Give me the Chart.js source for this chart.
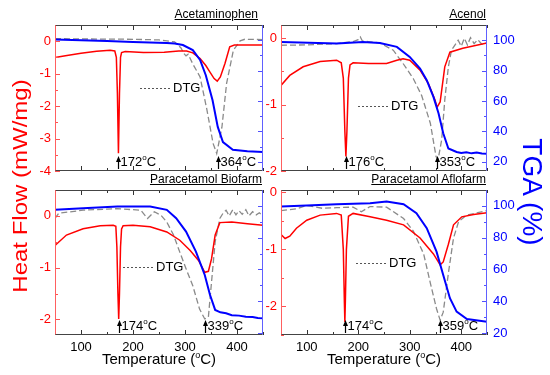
<!DOCTYPE html>
<html>
<head>
<meta charset="utf-8">
<script src="https://cdn.jsdelivr.net/npm/chart.js@4.4.0/dist/chart.umd.min.js"></script>
<style>
body { margin: 0; background: #fff; }
#wrap { position: relative; width: 550px; height: 375px; overflow: hidden; font-family: 'Liberation Sans', Arial, sans-serif; }
canvas { position: absolute; left: 0; top: 0; }
.ttl { position: absolute; font-size: 12px; line-height: 12px; text-decoration: underline; color: #000; white-space: nowrap; }
.xt { position: absolute; width: 200px; text-align: center; font-size: 15px; line-height: 15px; color: #000; white-space: nowrap; }
.xt span { font-size: 9px; position: relative; top: -6px; }
#hf { position: absolute; left: -130px; top: 174px; width: 300px; line-height: 24px; font-size: 20px; text-align: center; color: #ff0000; transform: rotate(-90deg) scale(1.2, 1); white-space: nowrap; }
#tga { position: absolute; left: 432px; top: 178px; width: 200px; line-height: 28px; font-size: 28px; text-align: center; color: #0000ff; transform: rotate(90deg); white-space: nowrap; }
</style>
</head>
<body>
<div id="wrap">
	<canvas id="c0" width="550" height="375"></canvas>
	<canvas id="c1" width="550" height="375"></canvas>
	<canvas id="c2" width="550" height="375"></canvas>
	<canvas id="c3" width="550" height="375"></canvas>
	<div class="ttl" style="right:292px; top:8px;">Acetaminophen</div>
	<div class="ttl" style="right:64px; top:8px;">Acenol</div>
	<div class="ttl" style="right:288px; top:173px;">Paracetamol Biofarm</div>
	<div class="ttl" style="right:64px; top:173px;">Paracetamol Aflofarm</div>
	<div class="xt" style="left:59px; top:351px;">Temperature (<span>o</span>C)</div>
	<div class="xt" style="left:284px; top:351px;">Temperature (<span>o</span>C)</div>
	<div id="hf">Heat Flow (mW/mg)</div>
	<div id="tga">TGA (%)</div>
</div>
<script>
// temperature ticks
const xTicks = [100, 200, 300, 400];
const tgaTicks = [20, 40, 60, 80, 100];

// Acetaminophen
const acetDscT = [50, 70, 100, 130, 156, 165, 168, 170, 172, 174, 176, 178, 185, 220, 260, 288, 303, 315, 329, 340, 348, 356, 362, 368, 377, 386, 395, 450];
const acetDsc = [-0.5, -0.45, -0.37, -0.31, -0.28, -0.3, -0.5, -1.6, -3.45, -1.6, -0.5, -0.35, -0.32, -0.35, -0.34, -0.3, -0.3, -0.36, -0.53, -0.75, -0.95, -1.15, -1.23, -1.1, -0.68, -0.17, -0.12, -0.12];
const acetTgaT = [50, 100, 150, 200, 265, 280, 296, 315, 329, 340, 353, 363, 373, 392, 420, 450];
const acetTga = [100.5, 100, 99.5, 98.9, 98.2, 97.8, 96.8, 93.5, 87, 77, 60.5, 43, 33, 28, 27, 26.5];
const acetDtgT = [50, 100, 200, 250, 280, 292, 298, 302, 306, 315, 329, 342, 354, 361, 371, 380, 393, 406, 415, 450];
const acetDtg = [0.08, 0.07, 0.06, 0.04, -0.02, -0.2, -0.38, -0.45, -0.4, -0.7, -1.1, -2.1, -3.15, -3.46, -2.65, -1.3, -0.28, 0.01, 0.06, 0.05];
const acetPeaks = [172, 364];

// Acenol
const acenDscT = [50, 67, 93, 126, 158, 167, 171, 174, 176, 178, 181, 184, 190, 220, 255, 275, 287, 300, 320, 336, 349, 353, 359, 368, 378, 403, 450];
const acenDsc = [-0.71, -0.56, -0.43, -0.35, -0.33, -0.37, -0.6, -1.4, -1.78, -1.4, -0.6, -0.4, -0.37, -0.38, -0.38, -0.33, -0.31, -0.33, -0.48, -0.68, -0.93, -1.04, -0.96, -0.43, -0.21, -0.15, -0.07];
const acenTgaT = [50, 158, 209, 242, 275, 300, 320, 333, 346, 356, 365, 375, 391, 400, 410, 420, 430, 440, 450];
const acenTga = [98.9, 97.8, 98.9, 98.2, 95.6, 89, 81.4, 73.7, 62.7, 51.8, 38.8, 28.8, 26.5, 25.8, 26.3, 25.6, 26.1, 25.5, 25.4];
const acenDtgT = [50, 100, 158, 190, 200, 204, 208, 220, 242, 268, 287, 307, 323, 340, 351, 355, 362, 368, 375, 381, 388, 394, 400, 406, 412, 418, 425, 432, 440, 450];
const acenDtg = [-0.105, -0.1, -0.08, -0.05, -0.02, 0.02, -0.04, -0.05, -0.07, -0.18, -0.38, -0.61, -0.86, -1.28, -1.78, -1.83, -1.53, -0.93, -0.43, -0.18, -0.1, -0.03, -0.12, 0.0, -0.1, 0.01, -0.08, -0.02, -0.09, -0.07];
const acenPeaks = [176, 353];

// Paracetamol Biofarm
const bioDscT = [50, 72, 104, 137, 162, 167, 169, 171, 172.5, 174, 176, 178, 181, 200, 233, 265, 290, 310, 326, 338, 345, 351, 358, 367, 390, 420, 450];
const bioDsc = [-0.57, -0.37, -0.25, -0.19, -0.18, -0.2, -0.6, -1.5, -1.99, -1.5, -0.6, -0.25, -0.19, -0.18, -0.21, -0.31, -0.47, -0.67, -0.86, -1.09, -1.07, -0.83, -0.37, -0.13, -0.12, -0.15, -0.18];
const bioTgaT = [50, 104, 170, 233, 265, 283, 302, 321, 338, 348, 358, 368, 379, 390, 404, 417, 430, 440, 450];
const bioTga = [97.5, 98.5, 99.6, 99.6, 97.5, 92.2, 83.8, 71.2, 56.5, 44, 34.5, 33, 32.4, 31.2, 30.9, 30.2, 30, 29.4, 29.3];
const bioDtgT = [50, 57, 104, 170, 215, 228, 241, 254, 265, 278, 290, 302, 315, 328, 338, 345, 351, 358, 367, 373, 379, 385, 392, 398, 404, 410, 417, 423, 430, 437, 443, 450];
const bioDtg = [-0.05, 0.05, 0.11, 0.14, 0.11, -0.05, 0.08, 0.01, -0.12, -0.37, -0.7, -1.02, -1.35, -1.8, -1.99, -1.95, -1.28, -0.5, -0.05, 0.05, 0.11, 0.0, 0.12, 0.02, 0.1, 0.03, 0.12, 0.0, 0.08, 0.02, 0.06, 0.0];
const bioPeaks = [174, 339];

// Paracetamol Aflofarm
const afloDscT = [50, 58, 67, 80, 100, 126, 158, 167, 171, 173, 174, 175, 177, 181, 190, 223, 255, 288, 320, 346, 359, 365, 375, 385, 401, 424, 450];
const afloDsc = [-0.74, -0.81, -0.77, -0.63, -0.49, -0.4, -0.37, -0.4, -1.0, -1.9, -2.27, -1.9, -1.0, -0.42, -0.37, -0.43, -0.49, -0.57, -0.8, -1.08, -1.27, -1.22, -0.91, -0.57, -0.43, -0.39, -0.36];
const afloTgaT = [50, 100, 158, 223, 255, 288, 313, 333, 352, 365, 378, 391, 411, 450];
const afloTga = [99.6, 100.2, 101, 101.7, 102.7, 101, 95.4, 86, 71.2, 56.5, 41.9, 33.4, 28.8, 27.1];
const afloDtgT = [50, 80, 100, 130, 158, 190, 206, 223, 255, 288, 307, 327, 340, 352, 359, 365, 375, 385, 395, 411, 430, 450];
const afloDtg = [-0.32, -0.29, -0.23, -0.28, -0.27, -0.26, -0.34, -0.25, -0.26, -0.46, -0.68, -1.08, -1.59, -2.04, -2.24, -2.1, -1.42, -0.8, -0.51, -0.4, -0.36, -0.32];
const afloPeaks = [174, 359];

const FONT = "'Liberation Sans', Arial, sans-serif";
Chart.defaults.font.family = FONT;
Chart.defaults.font.size = 12;

function pts(ts, vs) {
	return ts.map((t, i) => ({ x: t, y: vs[i] }));
}

function drawMarks(ctx, scale, majors, side, a, color) {
	const step = Math.abs(majors[1] - majors[0]) / 2;
	const lo = Math.min(scale.min, scale.max) - 1e-9;
	const hi = Math.max(scale.min, scale.max) + 1e-9;
	ctx.strokeStyle = color;
	ctx.lineWidth = 1;
	ctx.beginPath();
	for (let k = -40; k <= 40; k++) {
		const v = majors[0] + k * step;
		if (v < lo || v > hi) continue;
		const len = k % 2 === 0 ? 5 : 3;
		const p = Math.round(scale.getPixelForValue(v)) + 0.5;
		if (side === "bottom") { ctx.moveTo(p, a.bottom); ctx.lineTo(p, a.bottom - len); }
		if (side === "top") { ctx.moveTo(p, a.top); ctx.lineTo(p, a.top + len); }
		if (side === "left") { ctx.moveTo(a.left, p); ctx.lineTo(a.left + len, p); }
		if (side === "right") { ctx.moveTo(a.right, p); ctx.lineTo(a.right - len, p); }
	}
	ctx.stroke();
}

const framePlugin = {
	id: "frame",
	afterDatasetsDraw(chart, args, opts) {
		const ctx = chart.ctx;
		const a = chart.chartArea;
		const s = chart.scales;
		ctx.save();
		drawMarks(ctx, s.x, xTicks, "bottom", a, "#333");
		drawMarks(ctx, s.x, xTicks, "top", a, "#333");
		drawMarks(ctx, s.y, opts.yTicks, "left", a, "#ff5050");
		drawMarks(ctx, s.tga, tgaTicks, "right", a, "#5050ff");

		// frame
		const l = Math.round(a.left) + 0.5, r = Math.round(a.right) - 0.5;
		const t = Math.round(a.top) + 0.5, b = Math.round(a.bottom) - 0.5;
		ctx.lineWidth = 1;
		ctx.strokeStyle = "#444";
		ctx.beginPath(); ctx.moveTo(l, t); ctx.lineTo(r, t); ctx.moveTo(l, b); ctx.lineTo(r, b); ctx.stroke();
		ctx.strokeStyle = "#ff6060";
		ctx.beginPath(); ctx.moveTo(l, t); ctx.lineTo(l, b); ctx.stroke();
		ctx.strokeStyle = "#6060ff";
		ctx.beginPath(); ctx.moveTo(r, t); ctx.lineTo(r, b); ctx.stroke();

		// peak arrows
		ctx.fillStyle = "#000";
		ctx.strokeStyle = "#000";
		opts.peaks.forEach((p) => {
			const x = Math.round(s.x.getPixelForValue(p)) + 0.5;
			const y0 = a.bottom - 2, y1 = a.bottom - 15;
			ctx.lineWidth = 1.2;
			ctx.beginPath(); ctx.moveTo(x, y0); ctx.lineTo(x, y1 + 4); ctx.stroke();
			ctx.beginPath(); ctx.moveTo(x, y1); ctx.lineTo(x - 2.5, y1 + 6); ctx.lineTo(x + 2.5, y1 + 6); ctx.closePath(); ctx.fill();
			let tx = x + 2;
			const base = a.bottom - 5;
			ctx.textAlign = "left";
			ctx.textBaseline = "alphabetic";
			ctx.font = "13px " + FONT;
			ctx.fillText(String(p), tx, base);
			tx += ctx.measureText(String(p)).width;
			ctx.font = "8px " + FONT;
			ctx.fillText("o", tx, base - 6);
			tx += ctx.measureText("o").width;
			ctx.font = "13px " + FONT;
			ctx.fillText("C", tx, base);
		});

		// DTG legend
		const lx = a.left + opts.legend[0], ly = Math.round(a.top + opts.legend[1]) + 0.5;
		ctx.strokeStyle = "#555";
		ctx.lineWidth = 1;
		ctx.setLineDash([2, 2]);
		ctx.beginPath(); ctx.moveTo(lx, ly); ctx.lineTo(lx + 30, ly); ctx.stroke();
		ctx.setLineDash([]);
		ctx.font = "13px " + FONT;
		ctx.textBaseline = "middle";
		ctx.fillStyle = "#000";
		ctx.fillText("DTG", lx + 33, ly);
		ctx.restore();
	},
};

const panels = [
	{ id: "c0", box: [55, 25, 263, 171], yMin: -4, yMax: 0.5, yTicks: [0, -1, -2, -3, -4], tgaMin: 14, tgaMax: 110, showX: false, showTga: false,
		dsc: pts(acetDscT, acetDsc), tga: pts(acetTgaT, acetTga), dtg: pts(acetDtgT, acetDtg), peaks: acetPeaks, legend: [85, 63] },
	{ id: "c1", box: [281, 25, 487, 171], yMin: -2, yMax: 0.2, yTicks: [0, -1, -2], tgaMin: 14, tgaMax: 110, showX: false, showTga: true,
		dsc: pts(acenDscT, acenDsc), tga: pts(acenTgaT, acenTga), dtg: pts(acenDtgT, acenDtg), peaks: acenPeaks, legend: [77, 81] },
	{ id: "c2", box: [55, 190, 263, 335], yMin: -2.3, yMax: 0.5, yTicks: [0, -1, -2], tgaMin: 18.7, tgaMax: 110, showX: true, showTga: false,
		dsc: pts(bioDscT, bioDsc), tga: pts(bioTgaT, bioTga), dtg: pts(bioDtgT, bioDtg), peaks: bioPeaks, legend: [68, 77] },
	{ id: "c3", box: [281, 190, 487, 335], yMin: -2.5, yMax: 0.04, yTicks: [0, -1, -2], tgaMin: 18.7, tgaMax: 110, showX: true, showTga: true,
		dsc: pts(afloDscT, afloDsc), tga: pts(afloTgaT, afloTga), dtg: pts(afloDtgT, afloDtg), peaks: afloPeaks, legend: [75, 73] },
];

const W = 550, H = 375, AXW = 30, AXH = 25;

panels.forEach((p) => {
	const [L, T, R, B] = p.box;
	const xh = p.showX ? AXH : 0;
	new Chart(document.getElementById(p.id), {
		type: "line",
		data: {
			datasets: [
				{ data: p.tga, yAxisID: "tga", borderColor: "#0000ff", borderWidth: 2, pointRadius: 0, tension: 0 },
				{ data: p.dsc, yAxisID: "y", borderColor: "#ff0000", borderWidth: 1.5, pointRadius: 0, tension: 0 },
				{ data: p.dtg, yAxisID: "y", borderColor: "#8a8a8a", borderWidth: 1.3, borderDash: [6, 3], pointRadius: 0, tension: 0 },
			],
		},
		options: {
			responsive: false,
			animation: false,
			devicePixelRatio: 1,
			events: [],
			layout: { padding: { left: L - AXW, right: W - R - AXW, top: T, bottom: H - B - xh } },
			plugins: {
				legend: { display: false },
				tooltip: { enabled: false },
				frame: { yTicks: p.yTicks, peaks: p.peaks, legend: p.legend },
			},
			scales: {
				x: {
					type: "linear", min: 50, max: 450,
					grid: { display: false, drawTicks: false },
					border: { display: false },
					ticks: { display: p.showX, color: "#000", font: { size: 13 }, padding: 5, autoSkip: false, maxRotation: 0 },
					afterBuildTicks: (s) => { s.ticks = xTicks.map((v) => ({ value: v })); },
					afterFit: (s) => { s.height = xh; },
				},
				y: {
					position: "left", min: p.yMin, max: p.yMax,
					grid: { display: false, drawTicks: false },
					border: { display: false },
					ticks: { color: "#ff0000", font: { size: 13 }, padding: 4, autoSkip: false },
					afterBuildTicks: (s) => { s.ticks = p.yTicks.map((v) => ({ value: v })); },
					afterFit: (s) => { s.width = AXW; },
				},
				tga: {
					position: "right", min: p.tgaMin, max: p.tgaMax,
					grid: { display: false, drawTicks: false },
					border: { display: false },
					ticks: { display: p.showTga, color: "#0000ff", font: { size: 13 }, padding: 6, autoSkip: false },
					afterBuildTicks: (s) => { s.ticks = tgaTicks.map((v) => ({ value: v })); },
					afterFit: (s) => { s.width = AXW; },
				},
			},
		},
		plugins: [framePlugin],
	});
});
</script>
</body>
</html>
